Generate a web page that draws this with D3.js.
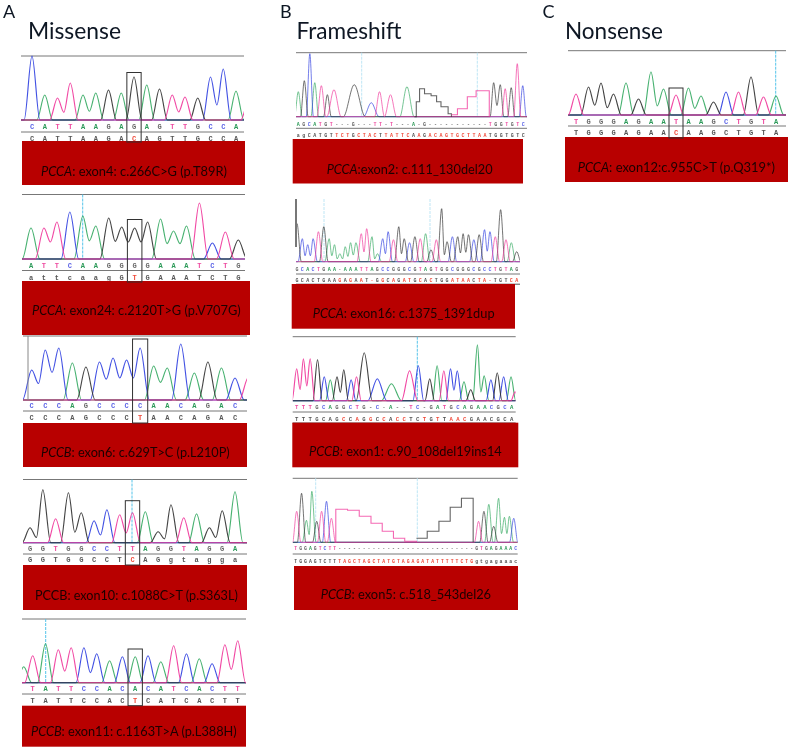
<!DOCTYPE html>
<html>
<head>
<meta charset="utf-8">
<script src="https://cdn.jsdelivr.net/npm/d3@7"></script>
<style>
  html, body { margin: 0; padding: 0; background: #fff; }
  svg { display: block; }
  .call { font-family: "Liberation Mono", monospace; font-weight: 700; text-anchor: middle; }
  .note { font-family: Lato, sans-serif; fill: #1c0404; }
  .head { font-family: Lato, sans-serif; fill: #0c1624; }
</style>
</head>
<body>
<div id="figure"></div>
<script>
// values: called bases, reference bases, trace channel and peak height
const a1Row1 = "CATTAAGAGAGTTGCCA", a1Row2 = "CATTAAGACAGTTGCCA";
const a1Ch = "CATTAAGAGAGTTGCCAT";
const a1H = [64, 25, 22, 37, 25, 27, 30, 27, 43, 35, 31, 25, 23, 22, 43, 51, 29, 20];

const a2Row1 = "ATTCAAGGGGAAATCTG", a2Row2 = "attcaagGTGAAATCTG";
const a2Ch = "ATTCAAGGGGAAATCTG";
const a2H = [31, 31, 37, 47, 43, 33, 41, 32, 31, 37, 40, 28, 33, 56, 16, 27, 19];

const a3Row1 = "CCCAGCCCCAACAGAC", a3Row2 = "CCCAGCCCTAACAGAC";
const a3Ch = "CCCAGCCCCAACAGACT";
const a3H = [30, 50, 52, 37, 33, 38, 42, 40, 52, 34, 32, 56, 27, 38, 32, 22, 23];

const a4Row1 = "GGTGGCCTTAGGTAGGA", a4Row2 = "GGTGGCCTCAGgtagga";
const a4Ch = "GGTGGCCTTAGGTAGGA";
const a4H = [15, 53, 24, 50, 30, 22, 33, 28, 30, 31, 11, 38, 25, 29, 15, 32, 51];

const a5Row1 = "TATTCCACACATCACTT", a5Row2 = "TATTCCACTCATCACTT";
const a5Ch = "ATATTCCACACATCACTT";
const a5Pos = [-0.7, 0, 1, 2, 3, 4, 5, 6, 7, 8, 9, 10, 11, 12, 13, 14, 15, 16];
const a5H = [16, 27, 39, 33, 35, 35, 29, 22, 26, 26, 27, 21, 37, 29, 24, 19, 38, 42];

const b1Row1 = "AGCATGT---G---TT-T---A-G-----------TGGTGTC";
const b1Row2 = "agCATGTTCTGCTACTTATTCAAGACAGTGCTTAATGGTGTC";
const b1Ch = "AGCATGTGCTTAGGTGTC";
const b1Pos = [0, 1.1, 2.1, 3, 4.2, 5.3, 6.5, 10.2, 13.3, 14.8, 16.8, 19.8, 35.6, 36.8, 37.7, 38.8, 39.9, 40.9];
const b1H = [25, 36, 63, 34, 31, 22, 27, 32, 14, 25, 22, 30, 34, 32, 28, 29, 53, 31];
const b1W = [0.7, 0.7, 0.65, 0.7, 0.8, 0.7, 1.3, 2, 1.4, 0.9, 1.1, 1.3, 0.65, 0.65, 0.65, 0.65, 0.65, 0.65];
const b1StepCh = ["G", "T"];
const b1StepX = [[21.2, 21.5, 22.1, 23, 24.2, 25.2, 26, 27.3, 27.9], [27.9, 29, 30.8, 32.4, 34.8]];
const b1StepH = [[0, 15, 28, 23, 21, 15, 10, 3, 0], [2, 8, 20, 26, 0]];

const b2Row1 = "GCACTGAA-AAATTAGCCGGGCGTAGTGGCGGGCGCCTGTAG";
const b2Row2 = "GCACTGAAGAGAAT-GGCAGATGCACTGGATAACTA-TGTCA";
const b2Ch = "GCCCTGAAAAAATTAACCTGGCGTAGTGGCGGGCGCCTGTAG";
const b2H = [38, 23, 17, 23, 30, 35, 23, 17, 8, 15, 19, 19, 28, 33, 25, 8, 23, 30, 22, 35, 23, 19, 25, 23, 28, 12, 22, 53, 20, 25, 25, 28, 27, 22, 27, 32, 30, 25, 52, 22, 19, 10];

const b3Row1 = "TTTGCAGGCTG-C-A--TC-GATGCAGAACGCA";
const b3Row2 = "TTTGCAGCCAGGCCACCTCTGTTAACGAACGCA";
const b3Ch = "TTTGCAGGCTGCATCGATCCAGAACGCAT";
const b3Pos = [0, 1, 2, 3.1, 4.1, 5, 6, 7, 8.1, 8.9, 10.05, 12, 14.1, 16.8, 18.1, 19.8, 20.9, 21.9, 22.9, 23.9, 24.9, 25.9, 26.9, 27.9, 28.9, 29.85, 30.8, 31.9, 32.5];
const b3H = [32, 42, 42, 41, 24, 21, 24, 31, 21, 24, 48, 22, 17, 30, 35, 22, 35, 30, 32, 30, 19, 11, 56, 25, 21, 28, 24, 24, 9];
const b3W = [0.7, 0.7, 0.7, 0.7, 0.7, 0.7, 0.7, 0.7, 0.7, 0.7, 1.2, 1.4, 1.5, 1.2, 0.8, 0.7, 0.7, 0.7, 0.7, 0.7, 0.7, 0.7, 0.7, 0.7, 0.7, 0.7, 0.7, 0.7, 0.6];

const b4Row1 = "TGGAGTCTT----------------------------GTGAGAAAC";
const b4Row2 = "TGGAGTCTTTAGCTAGCTATGTAGAGATATTTTTCTGgtgagaaac";
const b4Ch = "TGAAGTCTTGAGAAACC";
const b4Pos = [0.2, 1.2, 2.2, 3.3, 4.3, 5.3, 6.3, 7.3, 37.4, 38.5, 39.5, 40.5, 41.5, 42.7, 43.7, 44.6];
const b4H = [31, 49, 22, 51, 21, 31, 41, 24, 21, 31, 38, 16, 44, 25, 26, 24];
const b4StepCh = ["T", "G"];
const b4StepX = [[7.9, 8.2, 10.6, 13, 15.4, 17.7, 20, 22.3, 24.7], [24.7, 26.9, 29.3, 31.6, 33.9, 36.3]];
const b4StepH = [[0, 33, 32, 26, 19, 11, 4, 1, 0], [4, 11, 21, 35, 44, 0]];

const c1Row1 = "TGGGAGAATAAGCTGTA", c1Row2 = "TGGGAGAACAAGCTGTA";
const c1Ch = "TGGGAGAATAAGCTGTA";
const c1H = [21, 28, 32, 21, 32, 16, 43, 26, 20, 27, 19, 13, 23, 23, 38, 18, 19];

// section titles and the text in the red boxes
const letters = ["A", "B", "C"];
const titles = ["Missense", "Frameshift", "Nonsense"];
const genes = ["PCCA", "PCCA", "PCCB", "", "PCCB", "PCCA", "PCCA", "PCCB", "PCCB", "PCCA"];
const changes = [": exon4: c.266C>G (p.T89R)", ": exon24: c.2120T>G (p.V707G)", ": exon6: c.629T>C (p.L210P)", "PCCB: exon10: c.1088C>T (p.S363L)", ": exon11: c.1163T>A (p.L388H)", ":exon2: c.111_130del20", ": exon16: c.1375_1391dup", ": exon1: c.90_108del19ins14", ": exon5: c.518_543del26", ": exon12:c.955C>T (p.Q319*)"];

// page layout, pixels
const width = 790, height = 748;
const headLayout = [{lx: 3, tx: 28, tw: 93}, {lx: 280, tx: 296.5, tw: 105}, {lx: 542.5, tx: 565, tw: 98}];
const colors = {A: "#33a860", C: "#2f3fe0", G: "#303030", T: "#f0359a"};
const textColors = {A: "#2c9a58", C: "#5a62e6", G: "#666666", T: "#ee4aa0", "-": "#666666"};

const panels = [
    {row1: a1Row1, row2: a1Row2, ch: a1Ch, h: a1H, box: 8, x0: 32, x1: 236, left: 21, right: 244, top: 56, base: 120, r1: 127, sep: 132, r2: 139, rx: [22, 245], ry: [141, 185], tx: 41, tw: 186, ty: 172, boxY: [72.5, 142], fs: 7},
    {row1: a2Row1, row2: a2Row2, ch: a2Ch, h: a2H, box: 8, x0: 31, x1: 238.3, left: 22, right: 245, top: 194.5, base: 259, r1: 266, sep: 270.5, r2: 278, rx: [22, 250], ry: [281, 335], tx: 32, tw: 209, ty: 311, boxY: [219.5, 282], fs: 7, cyan: [82.7], pw: 0.68, vf: 0.55},
    {row1: a3Row1, row2: a3Row2, ch: a3Ch, h: a3H, box: 8, x0: 31.7, x1: 235, left: 23, right: 247, top: 336, base: 400, r1: 406, sep: 411, r2: 418, rx: [23, 247], ry: [423, 467], tx: 41, tw: 189, ty: 452.5, boxY: [339, 423], fs: 7, edge: {x: 28, y: 400, w: 1, c: "#888"}, pw: 0.68, vf: 0.55},
    {row1: a4Row1, row2: a4Row2, ch: a4Ch, h: a4H, box: 8, x0: 30, x1: 235, left: 23, right: 247, top: 479.5, base: 542.7, r1: 549, sep: 554, r2: 560, rx: [23, 247], ry: [565, 610], tx: 35, tw: 203, ty: 596, boxY: [500.7, 565], fs: 7, cyan: [132]},
    {row1: a5Row1, row2: a5Row2, ch: a5Ch, pos: a5Pos, h: a5H, box: 8, x0: 32.7, x1: 237.7, left: 22, right: 246, top: 619, base: 682.7, r1: 689, sep: 694, r2: 700.7, rx: [22, 246], ry: [705.7, 746.7], tx: 31, tw: 206, ty: 732, boxY: [649, 705.7], fs: 7, cyan: [45.7]},
    {row1: b1Row1, row2: b1Row2, ch: b1Ch, pos: b1Pos, h: b1H, w: b1W, stepCh: b1StepCh, stepX: b1StepX, stepH: b1StepH, x0: 298.3, x1: 523.3, left: 296, right: 527, top: 52.7, base: 116.7, r1: 124, sep: 128.3, r2: 135, rx: [292.7, 523], ry: [139, 183.5], tx: 326.7, tw: 166, ty: 170, fs: 5, cyan: [361.7, 477.3], pale: true},
    {row1: b2Row1, row2: b2Row2, ch: b2Ch, h: b2H, x0: 297, x1: 516.7, left: 296, right: 520, top: 199, base: 261.7, r1: 269, sep: 274, r2: 280, rx: [291.7, 515], ry: [284, 328.7], tx: 312.7, tw: 182, ty: 314.3, fs: 5, cyan: [324, 430], pale: true, noTop: true, edge: {x: 296, y: 247, w: 2, c: "#777"}, line2: 284.2, pw: 0.8},
    {row1: b3Row1, row2: b3Row2, ch: b3Ch, pos: b3Pos, h: b3H, w: b3W, x0: 296.7, x1: 511.7, left: 292.7, right: 515.7, top: 336.7, base: 400.7, r1: 407.3, sep: 412, r2: 419, rx: [292.3, 518.3], ry: [422.7, 467.3], tx: 309, tw: 193, ty: 452.3, fs: 5.6, cyan: [417.3], line2: 423},
    {row1: b4Row1, row2: b4Row2, ch: b4Ch, pos: b4Pos, h: b4H, stepCh: b4StepCh, stepX: b4StepX, stepH: b4StepH, x0: 295.7, x1: 515.7, left: 292.7, right: 517.7, top: 478.3, base: 542.3, r1: 548, sep: 554, r2: 561, rx: [294, 518], ry: [566, 610], tx: 320.7, tw: 170.5, ty: 595, fs: 4.8, cyan: [315.7, 417.3], pw: 0.85, pale: true},
    {row1: c1Row1, row2: c1Row2, ch: c1Ch, h: c1H, box: 8, x0: 576, x1: 776, left: 568, right: 786, top: 50.7, base: 115, r1: 121.7, sep: 126, r2: 132.7, rx: [565, 788], ry: [137, 182], tx: 577.7, tw: 197.5, ty: 167.7, boxY: [88, 138], fs: 7, cyan: [775.7]}
];

let svg = d3.select("#figure").append("svg")
    .attr("width", width)
    .attr("height", height);

// the source is a slightly soft raster, so everything goes through a small blur
svg.append("defs").append("filter")
    .attr("id", "soft")
    .append("feGaussianBlur")
    .attr("stdDeviation", 0.3);

let root = svg.append("g").attr("filter", "url(#soft)");

// turns the peaks of one channel into points for the line generator
function channelPoints(peaks, first, last, valley) {
    let pts = [[first, 0]];
    peaks.forEach((p, i) => {
        let prev = peaks[i - 1];
        if (prev && prev.pos + prev.w > p.pos - p.w) {
            pts.push([(prev.pos + p.pos) / 2, valley * Math.min(prev.h, p.h)]);
        } else {
            if (prev) pts.push([prev.pos + prev.w, 0]);
            pts.push([p.pos - p.w, 0]);
        }
        pts.push([p.pos, p.h]);
    });
    if (peaks.length) pts.push([peaks[peaks.length - 1].pos + peaks[peaks.length - 1].w, 0]);
    pts.push([last, 0]);
    return pts;
}

panels.forEach((d, n) => {
    let g = root.append("g");
    let count = d.row1.length - 1;
    let xScale = d3.scaleLinear().domain([0, count]).range([d.x0, d.x1]);
    let yScale = d3.scaleLinear().domain([0, d.base - d.top]).range([d.base, d.top]);
    let first = xScale.invert(d.left), last = xScale.invert(d.right);

    g.append("clipPath").attr("id", "clip" + n)
        .append("rect")
        .attr("x", d.left).attr("y", d.top - 1)
        .attr("width", d.right - d.left).attr("height", d.base - d.top + 3);

    if (!d.noTop) {
        g.append("line")
            .attr("x1", d.left).attr("x2", d.right)
            .attr("y1", d.top).attr("y2", d.top)
            .attr("stroke", "#777");
    }

    // cyan marker lines behind the traces
    g.selectAll(".cyan").data(d.cyan || []).enter().append("line")
        .attr("x1", c => c).attr("x2", c => c)
        .attr("y1", d.top).attr("y2", d.base)
        .attr("stroke", d.pale ? "#bfe6f5" : "#55c4ea")
        .attr("stroke-dasharray", "3,1");

    let trace = g.append("g")
        .attr("clip-path", "url(#clip" + n + ")")
        .attr("fill", "none")
        .attr("stroke-width", d.pale ? 0.9 : 1.15)
        .attr("stroke-opacity", d.pale ? 0.75 : 0.9);

    let line = d3.line()
        .x(p => xScale(p[0]))
        .y(p => yScale(p[1]))
        .curve(d3.curveMonotoneX);

    let peaks = Array.from(d.ch).map((c, i) => ({
        c: c,
        pos: d.pos ? d.pos[i] : i,
        h: d.h[i],
        w: d.w ? d.w[i] : (d.pw || 0.62)
    }));

    ["A", "C", "G", "T"].forEach(c => {
        let own = peaks.filter(p => p.c == c).sort((a, b) => a.pos - b.pos);
        trace.append("path")
            .attr("d", line(channelPoints(own, first, last, d.vf || 0.35)))
            .attr("stroke", colors[c]);
    });

    // plateaus of the deletion traces
    let stepLine = d3.line()
        .x(p => xScale(p[0]))
        .y(p => yScale(p[1]))
        .curve(d3.curveStepAfter);

    (d.stepCh || []).forEach((c, i) => {
        let pts = d.stepX[i].map((x, j) => [x, d.stepH[i][j]]);
        trace.append("path")
            .attr("d", stepLine(pts))
            .attr("stroke", colors[c])
            .attr("stroke-width", 1.1);
    });

    if (d.edge) {
        g.append("line")
            .attr("x1", d.edge.x).attr("x2", d.edge.x)
            .attr("y1", d.top).attr("y2", d.edge.y)
            .attr("stroke", d.edge.c)
            .attr("stroke-width", d.edge.w);
    }

    // separator between the two rows of letters
    g.append("line")
        .attr("x1", d.left).attr("x2", d.right)
        .attr("y1", d.sep).attr("y2", d.sep)
        .attr("stroke", "#777");

    if (d.line2) {
        g.append("line")
            .attr("x1", d.left).attr("x2", d.right)
            .attr("y1", d.line2).attr("y2", d.line2)
            .attr("stroke", "#555");
    }

    g.selectAll(".r1").data(Array.from(d.row1)).enter().append("text")
        .attr("class", "call")
        .attr("x", (c, i) => xScale(i))
        .attr("y", d.r1 + d.fs * 0.35)
        .attr("font-size", d.fs)
        .attr("fill", c => textColors[c.toUpperCase()])
        .text(c => c);

    g.selectAll(".r2").data(Array.from(d.row2)).enter().append("text")
        .attr("class", "call")
        .attr("x", (c, i) => xScale(i))
        .attr("y", d.r2 + d.fs * 0.35)
        .attr("font-size", d.fs)
        .attr("fill", (c, i) => c.toUpperCase() == d.row1[i] ? "#555" : "#f04a3a")
        .text(c => c);

    g.append("rect")
        .attr("x", d.rx[0]).attr("y", d.ry[0])
        .attr("width", d.rx[1] - d.rx[0]).attr("height", d.ry[1] - d.ry[0])
        .attr("fill", "#b80000");

    if (d.box !== undefined) {
        let half = (xScale(1) - xScale(0)) * 0.56;
        g.append("rect")
            .attr("x", xScale(d.box) - half).attr("y", d.boxY[0])
            .attr("width", half * 2).attr("height", d.boxY[1] - d.boxY[0])
            .attr("fill", "none")
            .attr("stroke", "#333");
    }

    let note = g.append("text")
        .attr("class", "note")
        .attr("x", d.tx)
        .attr("y", d.ty + 4)
        .attr("font-size", 13);
    if (genes[n]) note.append("tspan").attr("font-style", "italic").text(genes[n]);
    note.append("tspan").text(changes[n]);
    note.attr("font-size", 13 * d.tw / note.node().getComputedTextLength());
});

// panel letters and section titles
headLayout.forEach((d, i) => {
    root.append("text")
        .attr("class", "head")
        .attr("x", d.lx)
        .attr("y", 18)
        .attr("font-size", 18)
        .text(letters[i]);
    let title = root.append("text")
        .attr("class", "head")
        .attr("x", d.tx)
        .attr("y", 39)
        .attr("font-size", 22)
        .text(titles[i]);
    title.attr("font-size", 22 * d.tw / title.node().getComputedTextLength());
});
</script>
</body>
</html>
